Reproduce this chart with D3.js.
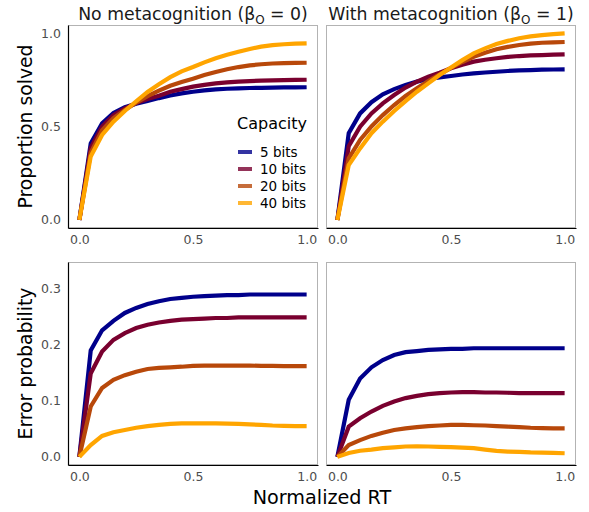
<!DOCTYPE html>
<html lang="en">
<head>
    <meta charset="UTF-8"/>
    <title>Proportion solved and error probability</title>
    <script src="https://d3js.org/d3.v7.min.js"></script>
    <style>
        body { margin: 0; background: #fff; }
        text { font-family: "DejaVu Sans", sans-serif; }
        .tick-label { font-size: 12.5px; fill: #4d4d4d; }
    </style>
</head>
<body>
<div id="chart"></div>
<script>
    // normalized RT grid
    const rt = [0, 0.05, 0.1, 0.15, 0.2, 0.25, 0.3, 0.35, 0.4, 0.45, 0.5,
        0.55, 0.6, 0.65, 0.7, 0.75, 0.8, 0.85, 0.9, 0.95, 1];

    const capacities = ["5 bits", "10 bits", "20 bits", "40 bits"];
    const colors = ["#00008b", "#79002f", "#b8480a", "#ffa500"];
    const panelTitles = ["No metacognition", "With metacognition"];
    const betaValues = ["0", "1"];
    const rowTitles = ["Proportion solved", "Error probability"];
    const yTicksTop = [0, 0.5, 1];
    const yTicksBottom = [0, 0.1, 0.2, 0.3];
    const xTicks = [0, 0.5, 1];

    // proportion solved, no metacognition (5, 10, 20, 40 bits)
    const solvedNoMeta = [
        [0, .41, .517, .572, .603, .622, .636, .652, .666, .677, .686, .693, .699, .702, .704, .706, .707, .708, .709, .709, .710],
        [0, .385, .50, .56, .597, .625, .647, .665, .686, .700, .713, .723, .731, .736, .740, .743, .745, .747, .748, .749, .750],
        [0, .36, .48, .545, .588, .627, .662, .692, .718, .738, .756, .775, .792, .806, .818, .827, .833, .837, .839, .840, .841],
        [0, .34, .455, .526, .583, .635, .685, .726, .764, .795, .818, .843, .865, .884, .900, .915, .927, .935, .940, .943, .945]
    ];
    // proportion solved, with metacognition
    const solvedMeta = [
        [0, .464, .57, .63, .672, .70, .722, .74, .754, .763, .770, .778, .784, .789, .793, .797, .80, .802, .804, .805, .806],
        [0, .395, .499, .57, .624, .668, .708, .74, .766, .788, .812, .831, .847, .857, .865, .872, .877, .880, .882, .884, .886],
        [0, .33, .428, .50, .561, .615, .663, .704, .743, .779, .813, .845, .873, .895, .913, .926, .936, .943, .948, .950, .952],
        [0, .294, .383, .464, .526, .583, .636, .686, .731, .775, .815, .855, .891, .918, .941, .958, .972, .982, .989, .994, .998]
    ];
    // error probability, no metacognition
    const errorNoMeta = [
        [0, .19, .226, .243, .257, .266, .273, .278, .282, .284, .286, .287, .288, .289, .289, .29, .29, .29, .29, .29, .29],
        [0, .149, .188, .209, .221, .23, .236, .240, .243, .245, .246, .247, .248, .248, .249, .249, .249, .249, .249, .249, .249],
        [0, .09, .123, .1375, .146, .152, .157, .159, .16, .161, .1625, .163, .163, .163, .163, .163, .1625, .1625, .162, .162, .162],
        [0, .021, .0375, .044, .048, .052, .055, .057, .059, .0598, .06, .06, .0598, .0593, .059, .058, .057, .056, .0555, .055, .055]
    ];
    // error probability, with metacognition
    const errorMeta = [
        [0, .102, .14, .16, .173, .182, .187, .189, .191, .192, .193, .193, .194, .194, .194, .194, .194, .194, .194, .194, .194],
        [0, .054, .069, .081, .091, .099, .105, .109, .112, .114, .115, .1155, .1155, .115, .115, .1145, .114, .114, .114, .1138, .1137],
        [0, .021, .03, .0375, .043, .048, .051, .053, .055, .056, .057, .057, .0565, .056, .055, .054, .053, .052, .0515, .051, .051],
        [0, .007, .011, .013, .0155, .017, .0185, .019, .0185, .018, .0175, .0165, .0155, .013, .0107, .0095, .009, .008, .0075, .007, .0065]
    ];

    const width = 589, height = 512;
    const colX = [68, 326];
    const rowY = [25, 262];
    const panelW = 250, panelH = 203;

    const svg = d3.select("#chart")
        .append("svg")
        .attr("width", width)
        .attr("height", height);

    const panels = [
        {row: 0, col: 0, data: solvedNoMeta},
        {row: 0, col: 1, data: solvedMeta},
        {row: 1, col: 0, data: errorNoMeta},
        {row: 1, col: 1, data: errorMeta}
    ];

    const yDomains = [[-0.043, 1.043], [-0.0145, 0.348]];
    const yTickSets = [yTicksTop, yTicksBottom];

    panels.forEach(function(p) {
        const g = svg.append("g")
            .attr("transform", "translate(" + colX[p.col] + "," + rowY[p.row] + ")");

        const x = d3.scaleLinear().domain([-0.05, 1.05]).range([0, panelW]);
        const y = d3.scaleLinear().domain(yDomains[p.row]).range([panelH, 0]);

        // panel border
        g.append("rect")
            .attr("x", 0.5).attr("y", 0.5)
            .attr("width", panelW - 1).attr("height", panelH - 1)
            .attr("fill", "none")
            .attr("stroke", "#b3b3b3")
            .attr("stroke-width", 1);

        // lines
        p.data.forEach(function(vals, i) {
            g.append("path")
                .datum(vals.map(function(v, j) { return [rt[j], v]; }))
                .attr("fill", "none")
                .attr("stroke", colors[i])
                .attr("stroke-width", 4.2)
                .attr("d", d3.line()
                    .x(function(d) { return x(d[0]); })
                    .y(function(d) { return y(d[1]); }));
        });

        // x axis
        const xAxis = g.append("g")
            .attr("transform", "translate(0," + panelH + ")")
            .call(d3.axisBottom(x).tickValues(xTicks).tickSize(0).tickPadding(7)
                .tickFormat(d3.format(".1f")));
        xAxis.select(".domain").attr("stroke", "#000").attr("stroke-width", 1.2);
        xAxis.selectAll("text").attr("class", "tick-label").attr("font-family", null).attr("font-size", null).attr("fill", null);

        // y axis only on the left column
        if (p.col === 0) {
            const yAxis = g.append("g")
                .call(d3.axisLeft(y).tickValues(yTickSets[p.row]).tickSize(0).tickPadding(7)
                    .tickFormat(d3.format(".1f")));
            yAxis.select(".domain").attr("stroke", "#000").attr("stroke-width", 1.2);
            yAxis.selectAll("text").attr("class", "tick-label").attr("font-family", null).attr("font-size", null).attr("fill", null);
        }
    });

    // facet titles
    panelTitles.forEach(function(t, i) {
        const txt = svg.append("text")
            .attr("x", colX[i] + panelW / 2)
            .attr("y", 20)
            .attr("text-anchor", "middle")
            .style("font-size", "17.3px")
            .attr("fill", "#1a1a1a");
        txt.append("tspan").text(t + " (\u03B2");
        txt.append("tspan").attr("dy", 4).style("font-size", "12px").text("O");
        txt.append("tspan").attr("dy", -4).text(" = " + betaValues[i] + ")");
    });

    // row axis titles
    rowTitles.forEach(function(t, i) {
        svg.append("text")
            .attr("transform", "translate(32," + (rowY[i] + panelH / 2) + ") rotate(-90)")
            .attr("text-anchor", "middle")
            .style("font-size", "18.8px")
            .attr("fill", "#000")
            .text(t);
    });

    svg.append("text")
        .attr("x", (colX[0] + colX[1] + panelW) / 2)
        .attr("y", 504)
        .attr("text-anchor", "middle")
        .style("font-size", "19.2px")
        .attr("fill", "#000")
        .text("Normalized RT");

    // legend
    const legend = svg.append("g").attr("transform", "translate(237,129)");
    legend.append("text")
        .attr("x", 0).attr("y", 0)
        .style("font-size", "16px")
        .attr("fill", "#000")
        .text("Capacity");
    capacities.forEach(function(c, i) {
        legend.append("line")
            .attr("x1", 1).attr("x2", 15)
            .attr("y1", 23 + i * 17).attr("y2", 23 + i * 17)
            .attr("stroke", colors[i])
            .attr("stroke-opacity", 0.8)
            .attr("stroke-width", 4);
        legend.append("text")
            .attr("x", 23).attr("y", 28 + i * 17)
            .style("font-size", "13.5px")
            .attr("fill", "#000")
            .text(c);
    });
</script>
</body>
</html>
